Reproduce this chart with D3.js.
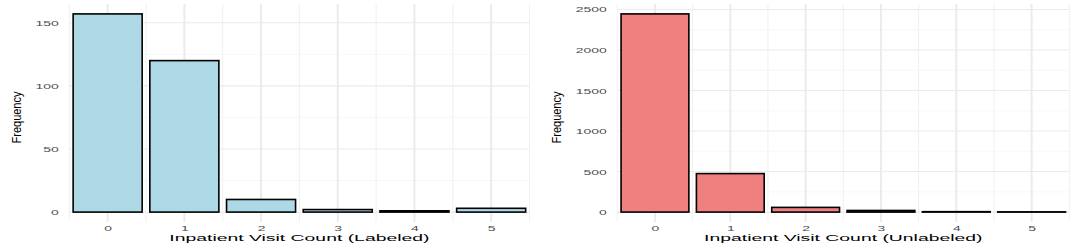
<!DOCTYPE html>
<html>
<head>
<meta charset="utf-8">
<script src="https://cdn.jsdelivr.net/npm/d3@7"></script>
<style>
  body { margin: 0; background: #fff; }
  svg { display: block; font-family: "Liberation Sans", Arial, sans-serif; }
</style>
</head>
<body>
<svg id="chart" width="1080" height="248"></svg>
<script>
// data
const visitCounts = [0, 1, 2, 3, 4, 5]
const labeledFreq = [157, 120, 10, 2, 1, 3]
const unlabeledFreq = [2445, 475, 58, 20, 5, 3]
const labeledTicks = [0, 50, 100, 150]
const unlabeledTicks = [0, 500, 1000, 1500, 2000, 2500]

const svg = d3.select("#chart")
const stretch = 2.0   // the source image is squashed vertically, text looks wide

function midpoints(vals, lo, hi) {
    let step = vals[1] - vals[0]
    let out = []
    for (let v = vals[0] - step / 2; v <= hi + 1e-9; v += step) {
        if (v >= lo - 1e-9) out.push(v)
    }
    return out
}

function drawPanel(freq, yTicks, fill, xLabel, left, right, offsetX) {
    let top = 4, bottom = 222
    let maxF = d3.max(freq)
    let x = d3.scaleLinear().domain([-0.5, 5.5]).range([left, right])
    let y = d3.scaleLinear().domain([-0.05 * maxF, 1.05 * maxF]).range([bottom, top])
    let g = svg.append("g")

    // grid
    let yMinor = midpoints(yTicks, y.domain()[0], y.domain()[1])
    let xMinor = midpoints(visitCounts, -0.5, 5.5)
    g.selectAll(".ymin").data(yMinor).enter().append("line")
        .attr("x1", left).attr("x2", right)
        .attr("y1", d => y(d)).attr("y2", d => y(d))
        .attr("stroke", "#f2f2f2").attr("stroke-width", 0.6)
    g.selectAll(".xmin").data(xMinor).enter().append("line")
        .attr("x1", d => x(d)).attr("x2", d => x(d))
        .attr("y1", top).attr("y2", bottom)
        .attr("stroke", "#f1f1f1").attr("stroke-width", 1.1)
    g.selectAll(".ymaj").data(yTicks).enter().append("line")
        .attr("x1", left).attr("x2", right)
        .attr("y1", d => y(d)).attr("y2", d => y(d))
        .attr("stroke", "#ebebeb").attr("stroke-width", 1.1)
    g.selectAll(".xmaj").data(visitCounts).enter().append("line")
        .attr("x1", d => x(d)).attr("x2", d => x(d))
        .attr("y1", top).attr("y2", bottom)
        .attr("stroke", "#ebebeb").attr("stroke-width", 2)

    // bars
    g.selectAll(".bar").data(visitCounts).enter().append("rect")
        .attr("x", d => x(d - 0.45))
        .attr("width", d => x(d + 0.45) - x(d - 0.45))
        .attr("y", (d, i) => y(freq[i]))
        .attr("height", (d, i) => y(0) - y(freq[i]))
        .attr("fill", fill)
        .attr("stroke", "#000").attr("stroke-width", 1.6)

    // y axis
    let ya = g.append("g").attr("transform", `translate(${left},0)`)
        .call(d3.axisLeft(y).tickValues(yTicks).tickFormat(d3.format("d")).tickSize(0).tickPadding(0))
    ya.select(".domain").remove()
    ya.selectAll("text")
        .attr("x", 0).attr("dy", "0.36em")
        .attr("transform", `translate(-10.5,0) scale(${stretch},1)`)
        .attr("fill", "#4d4d4d").style("font-size", "7px")
        .style("font-family", "Liberation Sans, Arial, sans-serif")

    // x axis
    let xa = g.append("g").attr("transform", `translate(0,${bottom})`)
        .call(d3.axisBottom(x).tickValues(visitCounts).tickFormat(d3.format("d")).tickSize(0).tickPadding(0))
    xa.select(".domain").remove()
    xa.selectAll("text")
        .attr("y", 0).attr("dy", 0)
        .attr("transform", `translate(0,9.3) scale(${stretch},1)`)
        .attr("fill", "#4d4d4d").style("font-size", "7px")
        .style("font-family", "Liberation Sans, Arial, sans-serif")

    // labels
    g.append("text")
        .attr("transform", `translate(${(left + right) / 2},241.3) scale(2.04,1)`)
        .attr("text-anchor", "middle")
        .style("font-size", "9.5px")
        .text(xLabel)

    g.append("text")
        .attr("transform", `translate(${offsetX + 21},117.5) rotate(-90) scale(0.88,1)`)
        .attr("text-anchor", "middle")
        .style("font-size", "12.5px")
        .text("Frequency")
}

drawPanel(labeledFreq, labeledTicks, "#ADD8E6", "Inpatient Visit Count (Labeled)", 69.3, 529.5, 0)
drawPanel(unlabeledFreq, unlabeledTicks, "#F08080", "Inpatient Visit Count (Unlabeled)", 617.3, 1069.3, 540)
</script>
</body>
</html>
